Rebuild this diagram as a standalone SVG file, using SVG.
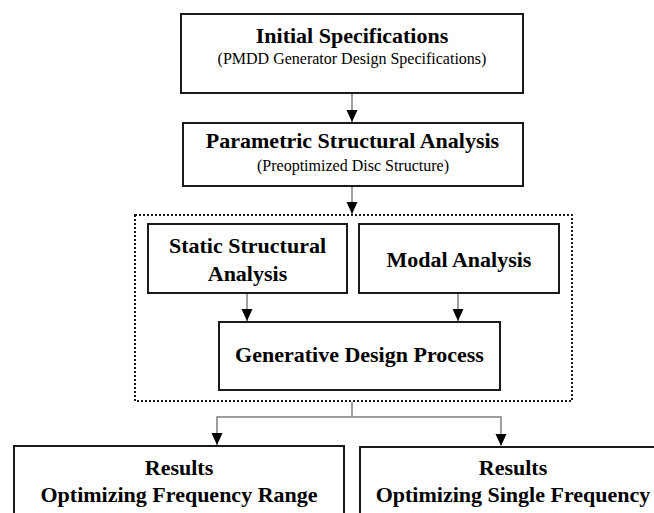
<svg xmlns="http://www.w3.org/2000/svg" width="654" height="513" viewBox="0 0 654 513">
<style>
.box{fill:#fff;stroke:#1a1a1a;stroke-width:2}
.dot{fill:none;stroke:#1a1a1a;stroke-width:2;stroke-dasharray:2 2}
.b{font-family:"Liberation Serif","Times New Roman",serif;font-weight:bold;font-size:22px;fill:#000;text-anchor:middle}
.r{font-family:"Liberation Serif","Times New Roman",serif;font-size:16px;fill:#000;text-anchor:middle}
.c{fill:none;stroke:#7f7f7f;stroke-width:1.5}
</style>
<defs>
<marker id="ah" markerUnits="userSpaceOnUse" markerWidth="12" markerHeight="12" viewBox="0 0 12 12" refX="6" refY="12" orient="auto-start-reverse">
<path d="M0,0 L12,0 L6,12 Z" fill="#000" transform="rotate(-90 6 6)"/>
</marker>
<marker id="a" markerUnits="userSpaceOnUse" markerWidth="12" markerHeight="12" viewBox="0 0 12 12" refX="12" refY="6" orient="auto">
<path d="M0,0.5 L12,6 L0,11.5 Z" fill="#000"/>
</marker>
</defs>
<rect width="654" height="513" fill="#fff"/>
<g id="connectors">
<line class="c" x1="352" y1="93" x2="352" y2="122" marker-end="url(#a)"/>
<line class="c" x1="352" y1="186" x2="352" y2="214" marker-end="url(#a)"/>
<line class="c" x1="247" y1="293" x2="247" y2="321" marker-end="url(#a)"/>
<line class="c" x1="458" y1="293" x2="458" y2="321" marker-end="url(#a)"/>
<polyline class="c" points="352,402 352,417"/>
<polyline class="c" points="501,445 501,417 217,417 217,445" stroke-linejoin="miter"/>
<path d="M211.5,433 L222.5,433 L217,445 Z" fill="#000"/>
<path d="M495.5,434 L506.5,434 L501,446 Z" fill="#000"/>
</g>
<g id="group-box">
<rect class="dot" x="135" y="215" width="437" height="186"/>
</g>
<g id="initial-specifications">
<rect class="box" x="181" y="14" width="342" height="79"/>
<text class="b" x="352" y="43">Initial Specifications</text>
<text class="r" x="352" y="64">(PMDD Generator Design Specifications)</text>
</g>
<g id="parametric-structural-analysis">
<rect class="box" x="183" y="123" width="340" height="63"/>
<text class="b" x="352.5" y="148">Parametric Structural Analysis</text>
<text class="r" x="353" y="171">(Preoptimized Disc Structure)</text>
</g>
<g id="static-structural-analysis">
<rect class="box" x="148" y="224" width="199" height="69"/>
<text class="b" x="247.5" y="253">Static Structural</text>
<text class="b" x="247.5" y="281">Analysis</text>
</g>
<g id="modal-analysis">
<rect class="box" x="359" y="224" width="200" height="69"/>
<text class="b" x="459" y="267">Modal Analysis</text>
</g>
<g id="generative-design-process">
<rect class="box" x="219" y="322" width="281" height="68"/>
<text class="b" x="359.5" y="362">Generative Design Process</text>
</g>
<g id="results-range">
<rect class="box" x="14" y="446" width="330" height="80"/>
<text class="b" x="179" y="475">Results</text>
<text class="b" x="179" y="502">Optimizing Frequency Range</text>
</g>
<g id="results-single">
<rect class="box" x="360" y="447" width="310" height="80"/>
<text class="b" x="513" y="475">Results</text>
<text class="b" x="513" y="502">Optimizing Single Frequency</text>
</g>
</svg>
